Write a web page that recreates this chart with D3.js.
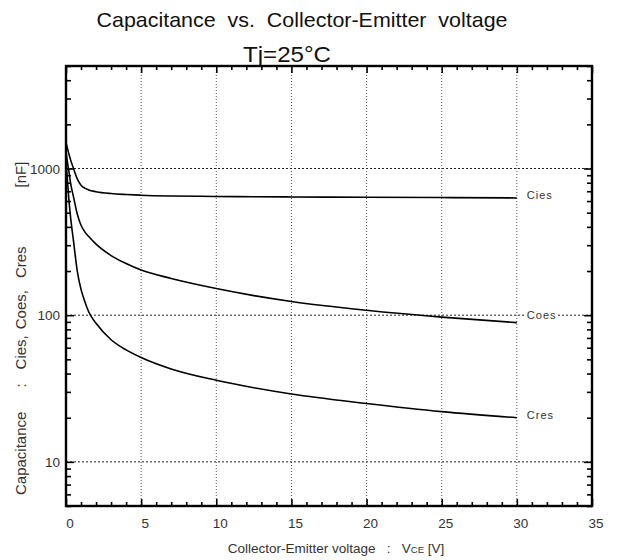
<!DOCTYPE html>
<html><head><meta charset="utf-8">
<script src="https://cdn.jsdelivr.net/npm/d3@7"></script>
<style>
html,body{margin:0;padding:0;background:#fff;}
svg text{font-family:"Liberation Sans",Arial,sans-serif;white-space:pre;}
</style></head>
<body><svg id="chart" width="622" height="560"></svg>
<script>
// ---- data ----
const vce  = [0, 0.1, 0.2, 0.3, 0.5, 0.75, 1, 1.25, 1.5, 2, 3, 4, 5, 7, 10, 12.5, 15, 20, 25, 30];
const cies = [1500, 1370, 1250, 1150, 1000, 850, 770, 735, 715, 695, 675, 665, 658, 650, 645, 642, 640, 637, 634, 630];
const coes = [1300, 1100, 950, 800, 640, 490, 410, 370, 345, 305, 255, 225, 203, 178, 152, 136, 124, 108, 97, 89];
const cres = [1150, 820, 600, 470, 320, 200, 150, 124, 106, 88, 68, 58, 51.5, 43, 36, 32, 29, 25, 22, 20];
const seriesNames = ["Cies", "Coes", "Cres"];
const xTickValues = [0, 5, 10, 15, 20, 25, 30, 35];
const yTickValues = [10, 100, 1000];
const titleText = "Capacitance  vs.  Collector-Emitter  voltage";
const subTitleText = "Tj=25\u00B0C";
const yLabelParts = ["Capacitance", ":", "Cies,", "Coes,", "Cres", "[nF]"];

const svg = d3.select("#chart");
const L = 66, R = 592, T = 66, B = 506;
const x = d3.scaleLinear().domain([0, 35]).range([L, R]);
const y = d3.scaleLog().domain([5, 5000]).range([B, T]);

// grid
svg.append("g").selectAll("line").data(xTickValues.filter(v => v > 0 && v < 35)).join("line")
  .attr("x1", d => x(d)).attr("x2", d => x(d)).attr("y1", T).attr("y2", B)
  .attr("stroke", "#555").attr("stroke-width", 1).attr("stroke-dasharray", "1,2");
svg.append("g").selectAll("line").data(yTickValues).join("line")
  .attr("x1", L).attr("x2", R).attr("y1", d => y(d)).attr("y2", d => y(d))
  .attr("stroke", "#222").attr("stroke-width", 1).attr("stroke-dasharray", "2,2");

// minor ticks
const xMinor = d3.range(0, 36, 1);
const yMinor = [];
[1, 10, 100, 1000].forEach(dec => { for (let k = 1; k <= 9; k++) { const v = k * dec; if (v >= 5 && v <= 5000) yMinor.push(v); } });

function tickAxis(axisFn, scale, vals, sizeFn, tr) {
  vals.forEach(v => {
    const g = svg.append("g").attr("transform", tr)
      .call(axisFn(scale).tickValues([v]).tickSize(sizeFn(v)).tickFormat(""));
    g.select(".domain").remove();
    g.selectAll("line").attr("stroke", "#000").attr("stroke-width", 1.6);
  });
}
const xs = v => (v % 5 === 0 ? -7 : -4);
const ys = v => ([10, 100, 1000].includes(v) ? -8 : -5);
tickAxis(d3.axisBottom, x, xMinor, xs, `translate(0,${B})`);
tickAxis(d3.axisTop, x, xMinor, xs, `translate(0,${T})`);
tickAxis(d3.axisLeft, y, yMinor, ys, `translate(${L},0)`);
tickAxis(d3.axisRight, y, yMinor, ys, `translate(${R},0)`);

// frame
svg.append("rect").attr("x", L).attr("y", T).attr("width", R - L).attr("height", B - T)
  .attr("fill", "none").attr("stroke", "#000").attr("stroke-width", 2.4);

// tick labels
svg.append("g").selectAll("text").data(xTickValues).join("text")
  .attr("x", d => x(d) + 4).attr("y", 528).attr("text-anchor", "middle")
  .attr("font-size", 13.5).attr("fill", "#333").text(d => d);
svg.append("g").selectAll("text").data(yTickValues).join("text")
  .attr("x", L - 6).attr("y", d => y(d) + 5).attr("text-anchor", "end")
  .attr("font-size", 13.5).attr("fill", "#333").text(d => d);

// curves
const line = d3.line().x(d => x(d[0])).y(d => y(d[1])).curve(d3.curveMonotoneX);
const seriesVals = [cies, coes, cres];
seriesVals.forEach(vals => {
  svg.append("path").datum(vce.map((v, i) => [v, vals[i]]))
    .attr("d", line).attr("fill", "none").attr("stroke", "#000").attr("stroke-width", 1.6);
});

// series labels
seriesNames.forEach((n, i) => {
  const vals = seriesVals[i];
  const last = vals[vals.length - 1];
  const yy = i === 1 ? y(100) + 4 : y(last) + 1;
  const t = svg.append("text").attr("x", x(30) + 10).attr("y", yy)
    .attr("font-family", "Liberation Mono, monospace").attr("font-size", 11)
    .attr("letter-spacing", 1).attr("fill", "#333").text(n);
  if (i === 1) {
    const bb = t.node().getBBox();
    svg.insert("rect", () => t.node()).attr("x", bb.x - 2).attr("y", bb.y).attr("width", bb.width + 3)
      .attr("height", bb.height).attr("fill", "#fff");
  }
});

// titles
svg.append("text").attr("x", 302).attr("y", 27).attr("text-anchor", "middle")
  .attr("font-size", 21).attr("fill", "#111")
  .attr("textLength", 411).attr("lengthAdjust", "spacingAndGlyphs").text(titleText);
svg.append("text").attr("x", 287).attr("y", 62).attr("text-anchor", "middle")
  .attr("font-size", 22).attr("fill", "#111")
  .attr("textLength", 88).attr("lengthAdjust", "spacingAndGlyphs").text(subTitleText);

// axis titles
const xl = svg.append("text").attr("x", 336).attr("y", 553).attr("text-anchor", "middle")
  .attr("font-size", 13.5).attr("fill", "#333");
xl.append("tspan").text("Collector-Emitter voltage   :   V");
xl.append("tspan").attr("font-size", 9.5).text("CE");
xl.append("tspan").text(" [V]");

const yGaps = [0, 24, 14, 6, 12, 59];
const yl = svg.append("text").attr("transform", "translate(26,0) rotate(-90)")
  .attr("x", -495).attr("y", 0).attr("font-size", 15).attr("fill", "#333");
yLabelParts.forEach((p, i) => yl.append("tspan").attr("dx", yGaps[i]).text(p));
</script></body></html>
